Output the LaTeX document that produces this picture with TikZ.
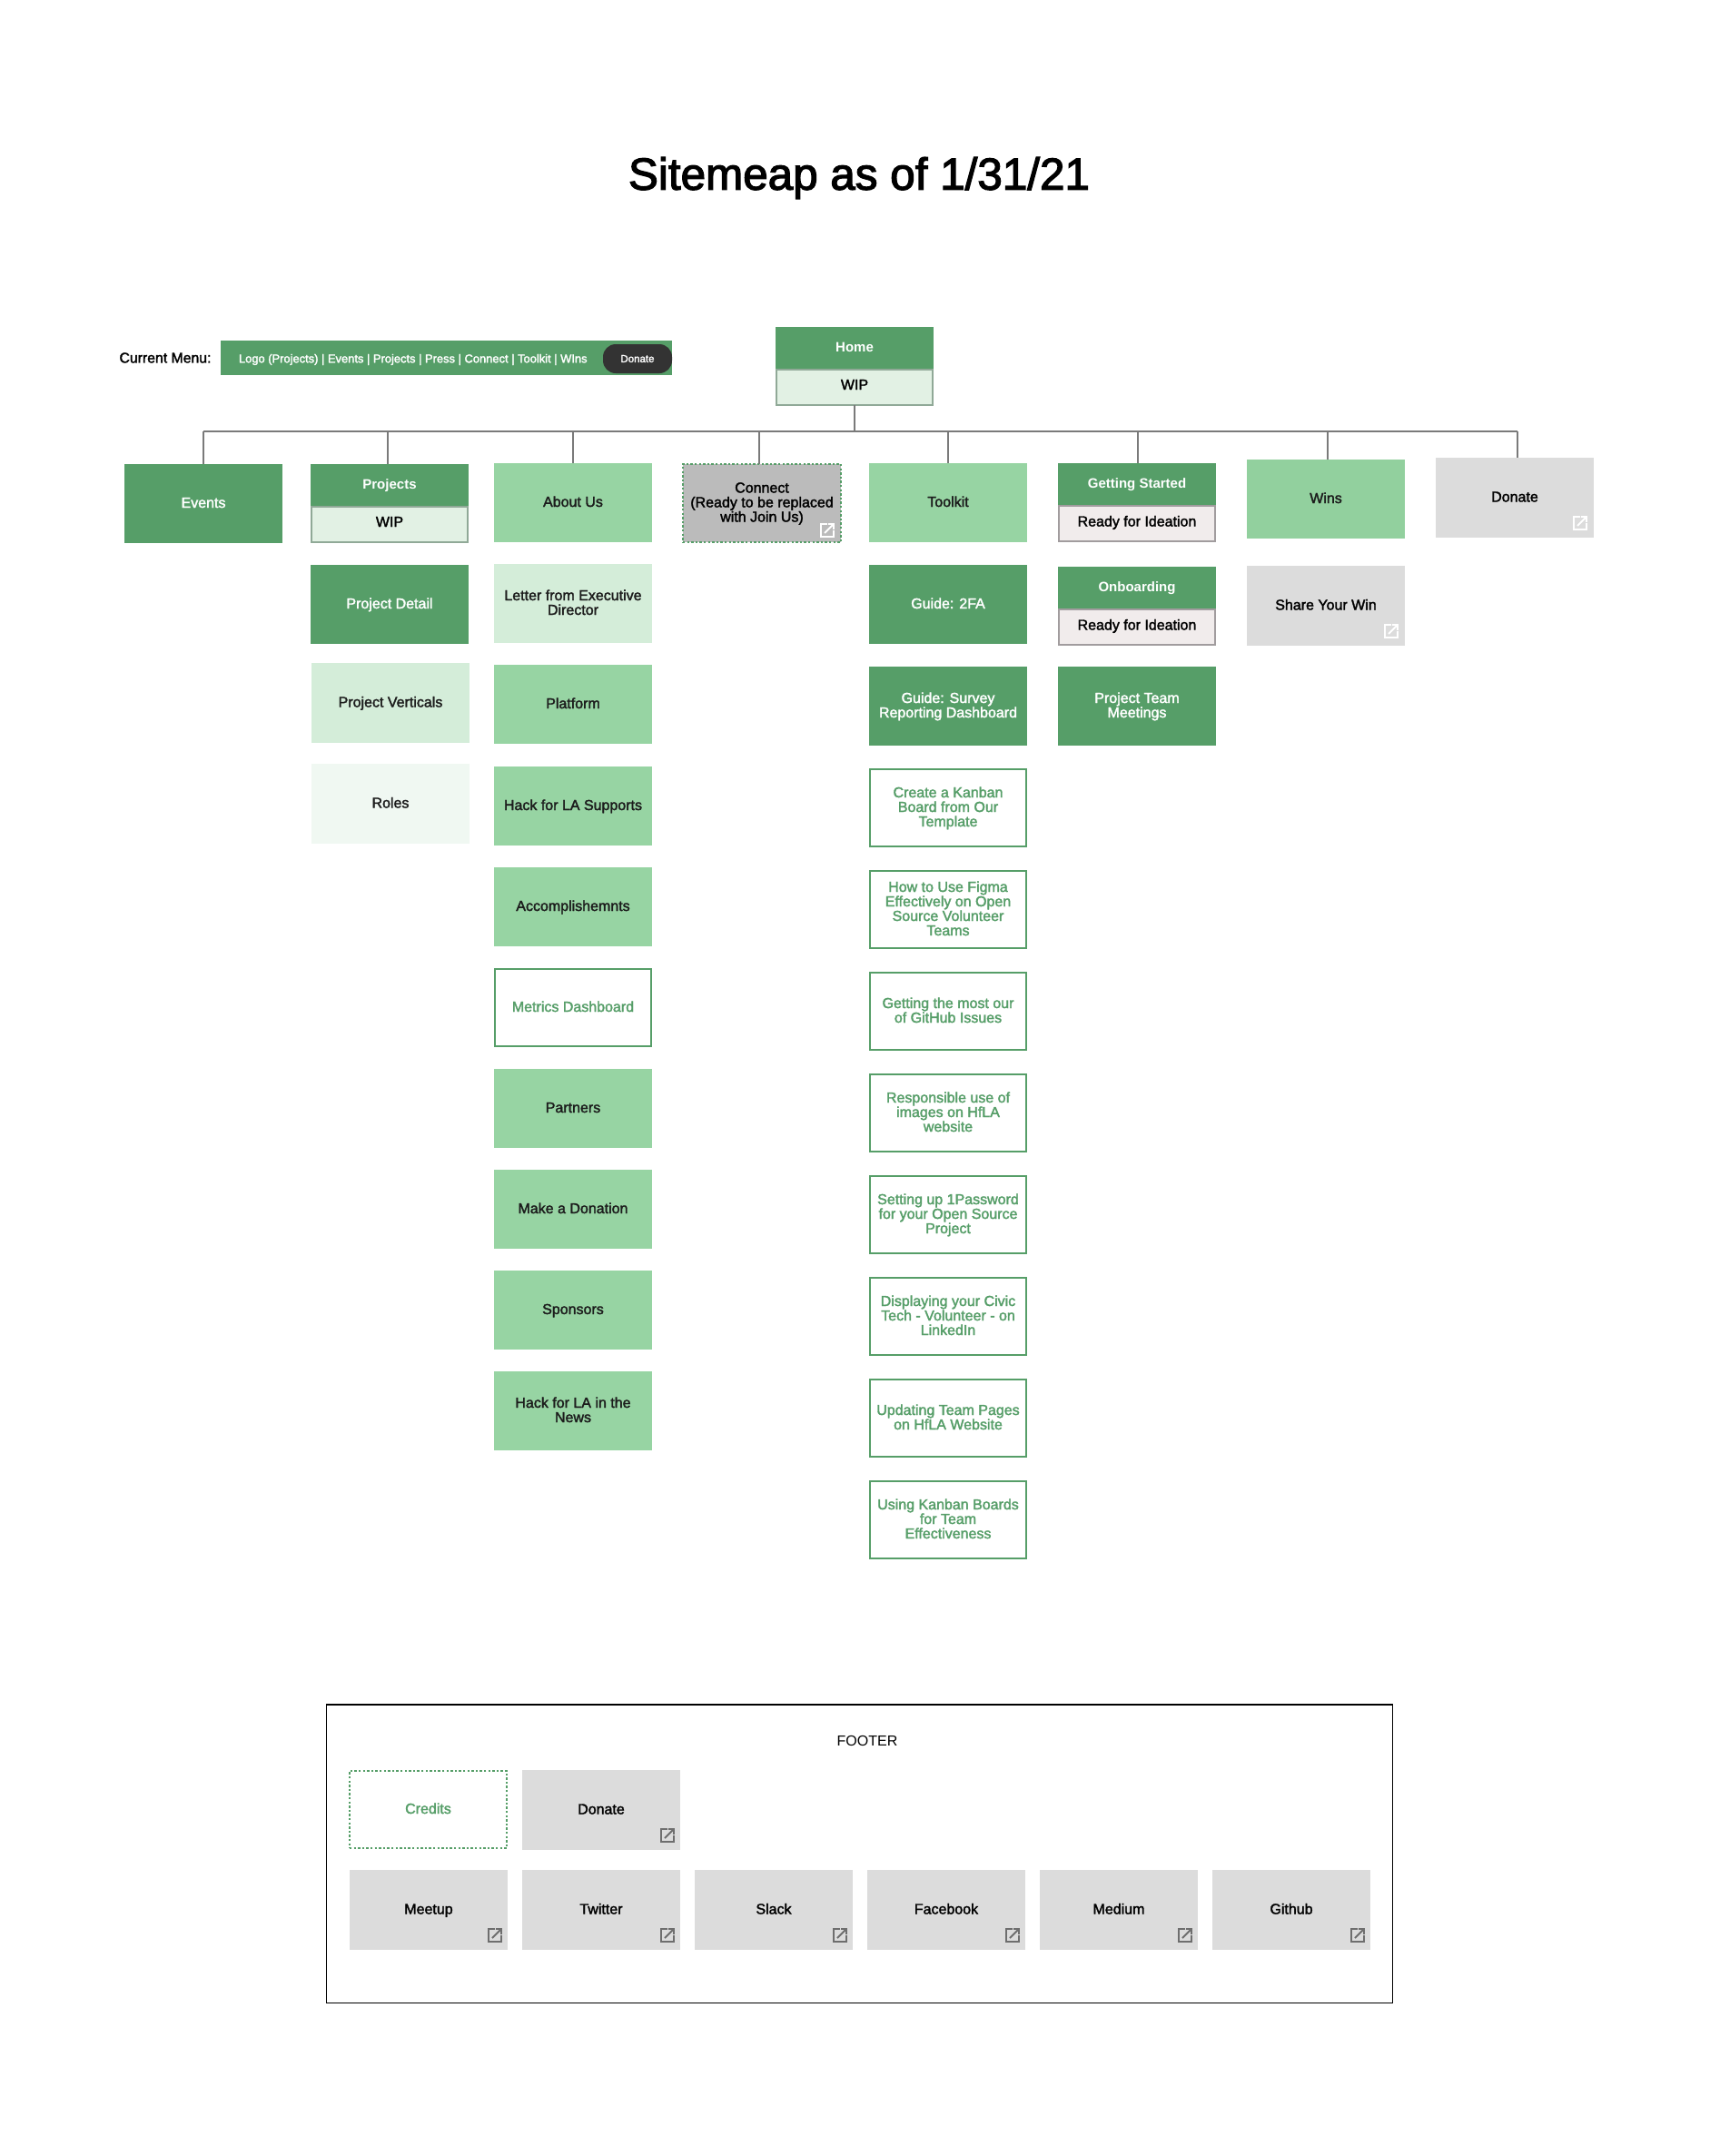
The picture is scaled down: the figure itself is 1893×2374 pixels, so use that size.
\documentclass[tikz,border=0pt]{standalone}
\usepackage{fontspec}
\setmainfont{Liberation Sans}
\newfontfamily\medf{Liberation Sans}[FakeBold=2]
\newfontfamily\titf{Liberation Sans}[FakeBold=2.5]
\newfontfamily\boldf{Liberation Sans Bold}
\definecolor{dkg}{HTML}{569E68}
\definecolor{ltg}{HTML}{97D4A3}
\definecolor{wing}{HTML}{92D09E}
\definecolor{palg}{HTML}{D4EDD9}
\definecolor{pag}{HTML}{F0F8F2}
\definecolor{wipf}{HTML}{E2F1E4}
\definecolor{wipb}{HTML}{90A997}
\definecolor{rdyf}{HTML}{F1ECEC}
\definecolor{rdyb}{HTML}{A19C9E}
\definecolor{gry}{HTML}{DCDCDC}
\definecolor{cong}{HTML}{BBBBBB}
\definecolor{linec}{HTML}{7A7A7A}
\definecolor{icong}{HTML}{6E6E6E}
\definecolor{txt}{HTML}{1C1C1C}
\newcommand\bxstrut{\rule[-3.5pt]{0pt}{16pt}}
\newcommand\bx[7]{\node[#2,minimum width={(#5)-(#3)},minimum height={(#6)-(#4)}] (#1) at ({((#3)+(#5))/2},{((#4)+(#6))/2}) {\bxstrut #7\bxstrut};}
\newcommand\obx[7]{\bx{#1}{#2}{(#3)+1}{(#4)+1}{(#5)-1}{(#6)-1}{#7}}
\newcommand\linkicon[3]{\begin{scope}[shift={(#1,#2)},draw=#3,line width=2pt]
\draw (8,1)--(1,1)--(1,15)--(15,15)--(15,8);
\draw (5,11)--(14,2);
\draw (9,1)--(15,1)--(15,7);
\end{scope}}
\tikzset{
 base/.style={rectangle,inner sep=0pt,outer sep=0pt,align=center,font=\medf\fontsize{16}{16}\selectfont},
 dark/.style={base,fill=dkg,text=white},
 darkhead/.style={base,fill=dkg,text=white,font=\boldf\fontsize{15}{16}\selectfont},
 light/.style={base,fill=ltg,text=txt},
 winbox/.style={base,fill=wing,text=txt},
 pale/.style={base,fill=palg,text=txt},
 paler/.style={base,fill=pag,text=txt},
 grey/.style={base,fill=gry,text=black},
 wipbody/.style={base,fill=wipf,draw=wipb,line width=2pt,text=black},
 rdybody/.style={base,fill=rdyf,draw=rdyb,line width=2pt,text=black},
 outl/.style={base,fill=white,draw=dkg,line width=2pt,text=dkg},
 dotbox/.style={base,draw=dkg,line width=2pt,dash pattern=on 2.4pt off 2.2pt},
 plain/.style={inner sep=0pt,outer sep=0pt,align=center},
 conn/.style={draw=linec,line width=1.6pt},
 busline/.style={draw=linec,line width=2pt}
}
\begin{document}
\begin{tikzpicture}[x=1pt,y=-1pt]
\useasboundingbox (0,0) rectangle (1893,2374);
\fill[white] (0,0) rectangle (1893,2374);
% title
\node[plain,font=\titf\fontsize{49.4}{56}\selectfont] (title) at (946,196) {Sitemeap as of 1/31/21};
% menu
\node[plain,font=\medf\fontsize{15.8}{16}\selectfont] (curmenu) at (182,394) {Current Menu:};
\bx{menu}{base,fill=dkg}{243}{375}{740}{413}{}
\node[plain,text=white,font=\medf\fontsize{12.9}{14}\selectfont,anchor=west] (menutext) at (263,396) {Logo (Projects) | Events | Projects | Press | Connect | Toolkit | WIns};
\node[rectangle,fill=black!80,rounded corners=14pt,minimum width=76pt,minimum height=32pt,inner sep=0pt,text=white,font=\medf\fontsize{11.5}{13}\selectfont] (pill) at (702,395) {Donate};
% home
\bx{homeh}{darkhead}{854}{360}{1028}{406}{Home}
\obx{homeb}{wipbody}{854}{406}{1028}{447}{\raisebox{2.5pt}{WIP}}
% columns 1..2
\bx{events}{dark}{137}{511}{311}{598}{Events}
\bx{projh}{darkhead}{342}{511}{516}{557}{Projects}
\obx{projb}{wipbody}{342}{557}{516}{598}{\raisebox{2.5pt}{WIP}}
\bx{projd}{dark}{342}{622}{516}{709}{Project Detail}
\bx{projv}{pale}{343}{730}{517}{818}{Project Verticals}
\bx{roles}{paler}{343}{841}{517}{929}{Roles}
% about
\bx{about}{light}{544}{510}{718}{597}{About Us}
\bx{letter}{pale}{544}{621}{718}{708}{Letter from Executive\\Director}
\bx{platform}{light}{544}{732}{718}{819}{Platform}
\bx{supports}{light}{544}{844}{718}{931}{Hack for LA Supports}
\bx{accomp}{light}{544}{955}{718}{1042}{Accomplishemnts}
\obx{metrics}{outl}{544}{1066}{718}{1153}{Metrics Dashboard}
\bx{partners}{light}{544}{1177}{718}{1264}{Partners}
\bx{makedon}{light}{544}{1288}{718}{1375}{Make a Donation}
\bx{sponsors}{light}{544}{1399}{718}{1486}{Sponsors}
\bx{news}{light}{544}{1510}{718}{1597}{Hack for LA in the\\News}
% connect
\obx{connect}{dotbox,fill=cong,text=black}{751}{510}{927}{598}{Connect\\(Ready to be replaced\\with Join Us)}
\linkicon{903}{576}{white}
% toolkit
\bx{toolkit}{light}{957}{510}{1131}{597}{Toolkit}
\bx{twofa}{dark}{957}{622}{1131}{709}{Guide: 2FA}
\bx{survey}{dark}{957}{734}{1131}{821}{Guide: Survey\\Reporting Dashboard}
\obx{kanban}{outl}{957}{846}{1131}{933}{Create a Kanban\\Board from Our\\Template}
\obx{figma}{outl}{957}{958}{1131}{1045}{How to Use Figma\\Effectively on Open\\Source Volunteer\\Teams}
\obx{github}{outl}{957}{1070}{1131}{1157}{Getting the most our\\of GitHub Issues}
\obx{images}{outl}{957}{1182}{1131}{1269}{Responsible use of\\images on HfLA\\website}
\obx{onepass}{outl}{957}{1294}{1131}{1381}{Setting up 1Password\\for your Open Source\\Project}
\obx{civic}{outl}{957}{1406}{1131}{1493}{Displaying your Civic\\Tech - Volunteer - on\\LinkedIn}
\obx{teampg}{outl}{957}{1518}{1131}{1605}{Updating Team Pages\\on HfLA Website}
\obx{kboards}{outl}{957}{1630}{1131}{1717}{Using Kanban Boards\\for Team\\Effectiveness}
% getting started
\bx{geth}{darkhead}{1165}{510}{1339}{556}{Getting Started}
\obx{getb}{rdybody}{1165}{556}{1339}{597}{\raisebox{2pt}{Ready for Ideation}}
\bx{onbh}{darkhead}{1165}{624}{1339}{670}{Onboarding}
\obx{onbb}{rdybody}{1165}{670}{1339}{711}{\raisebox{2pt}{Ready for Ideation}}
\bx{teammeet}{dark}{1165}{734}{1339}{821}{Project Team\\Meetings}
% wins
\bx{wins}{winbox}{1373}{506}{1547}{593}{Wins}
\bx{share}{grey}{1373}{623}{1547}{711}{Share Your Win}
\linkicon{1524}{687}{white}
% donate
\bx{donate}{grey}{1581}{504}{1755}{592}{Donate}
\linkicon{1732}{568}{white}
% connectors
\coordinate (trunk) at (941,475);
\coordinate (busl) at (224,475);
\coordinate (busr) at (1671,475);
\coordinate (b2) at (427,475);
\coordinate (b3) at (631,475);
\coordinate (b4) at (836,475);
\coordinate (b5) at (1044,475);
\coordinate (b6) at (1253,475);
\coordinate (b7) at (1462,475);
\draw[busline] (homeb.south -| trunk) -- (trunk);
\draw[busline] (busl) -- (busr);
\draw[conn] (busl) -- (busl |- events.north);
\draw[conn] (b2) -- (b2 |- projh.north);
\draw[conn] (b3) -- (b3 |- about.north);
\draw[conn] (b4) -- (b4 |- connect.north);
\draw[conn] (b5) -- (b5 |- toolkit.north);
\draw[conn] (b6) -- (b6 |- geth.north);
\draw[conn] (b7) -- (b7 |- wins.north);
\draw[conn] (busr) -- (busr |- donate.north);
% footer
\node[rectangle,draw=black,line width=1.2pt,minimum width=1174pt,minimum height=328.7pt,inner sep=0pt,outer sep=0pt] (footer) at (946.5,2041.3) {};
\node[plain,font=\fontsize{16}{16}\selectfont] (footlabel) at (955,1917) {FOOTER};
\obx{credits}{dotbox,text=dkg}{384}{1949}{559}{2036}{Credits}
\bx{fdonate}{grey}{575}{1949}{749}{2037}{Donate}
\linkicon{727}{2013}{icong}
\bx{meetup}{grey}{385}{2059}{559}{2147}{Meetup}
\linkicon{537}{2123}{icong}
\bx{twitter}{grey}{575}{2059}{749}{2147}{Twitter}
\linkicon{727}{2123}{icong}
\bx{slack}{grey}{765}{2059}{939}{2147}{Slack}
\linkicon{917}{2123}{icong}
\bx{facebook}{grey}{955}{2059}{1129}{2147}{Facebook}
\linkicon{1107}{2123}{icong}
\bx{medium}{grey}{1145}{2059}{1319}{2147}{Medium}
\linkicon{1297}{2123}{icong}
\bx{githubf}{grey}{1335}{2059}{1509}{2147}{Github}
\linkicon{1487}{2123}{icong}
\end{tikzpicture}
\end{document}
